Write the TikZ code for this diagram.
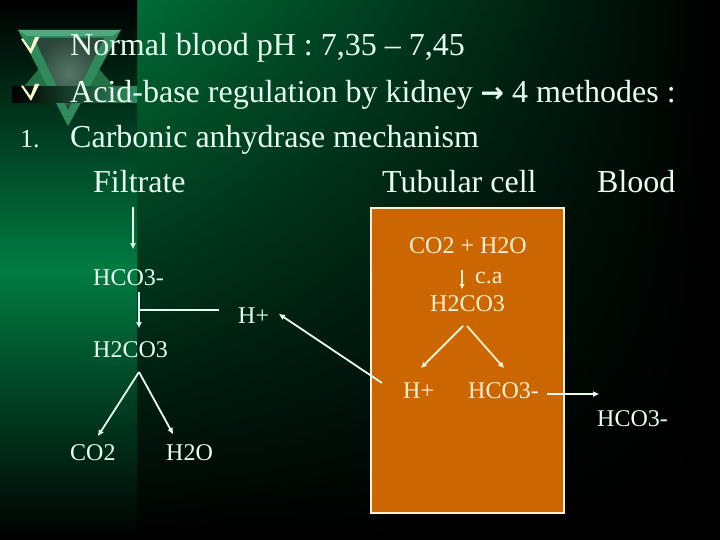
\documentclass[tikz,border=0pt]{standalone}
\usepackage{fontspec}
\setmainfont{Liberation Serif}
\newfontfamily\dejavu{DejaVu Sans}
\usetikzlibrary{arrows.meta,fadings}
\definecolor{bggreen}{HTML}{006C37}
\definecolor{bgmid}{HTML}{004A26}
\definecolor{stripgreen}{HTML}{007C42}
\definecolor{txt}{HTML}{E6FFF0}
\definecolor{boxtxt}{HTML}{FFF0D2}
\definecolor{orangebox}{HTML}{CC6600}
\definecolor{checkcol}{HTML}{FFFFCC}
\definecolor{ornframe}{HTML}{2F8A5C}
\definecolor{ornlight}{HTML}{4FA97C}
\definecolor{ornback}{HTML}{237246}
\definecolor{orninner}{HTML}{3A5E4C}
\definecolor{barlight}{HTML}{9CD4B4}
\tikzfading[name=bottomdark, top color=transparent!100, middle color=transparent!75, bottom color=transparent!0]
\begin{document}
\begin{tikzpicture}[x=1pt,y=-1pt,
  title/.style={anchor=base west, inner sep=0pt, text=txt, font=\fontsize{32}{38}\selectfont},
  chem/.style={anchor=base west, inner sep=0pt, text=txt, font=\fontsize{24}{28}\selectfont},
  boxchem/.style={anchor=base west, inner sep=0pt, text=boxtxt, font=\fontsize{24}{28}\selectfont},
  checkmark/.style={fill=checkcol},
  arr/.style={draw=txt, line width=1.8pt, -{Triangle[length=6pt,width=5pt]}},
  barr/.style={draw=boxtxt, line width=1.8pt, -{Triangle[length=6pt,width=5pt]}},
  plain/.style={draw=txt, line width=1.8pt}]
\useasboundingbox (0,0) rectangle (720,540);
% background
\shade[left color=bggreen, middle color=bgmid, right color=black] (137,0) rectangle (720,540);
\fill[black, path fading=bottomdark] (137,0) rectangle (720,540);
\shade[top color=black, bottom color=black, middle color=stripgreen] (0,0) rectangle (137,540);
% ornament
\fill[ornback] (20,91) -- (118,91) -- (69,34) -- cycle;
\fill[ornframe] (18,30) -- (121,30) -- (68,126) -- cycle;
\fill[ornlight] (18,30) -- (121,30) -- (112,36) -- (27,36) -- cycle;
\shade[inner color=orninner!85!white, outer color=orninner!75!black] (34,38) -- (104,38) -- (68,110) -- cycle;
\shade[left color=black, middle color=barlight, right color=ornframe] (12,87) rectangle (137,103);
% bullets (check marks)
\fill[checkmark] (21,39) -- (23,38.5) -- (30.5,49) -- (35,37) -- (39.5,37) -- (31,54) -- cycle;
\fill[checkmark] (21,86) -- (23,85.5) -- (30.5,96) -- (35,84) -- (39.5,84) -- (31,101) -- cycle;
% headings
\node[title] (t1) at (70,56) {Normal blood pH : 7,35 – 7,45};
\node[title] (t2) at (70,103) {Acid-base regulation by kidney {\dejavu\bfseries\fontsize{28}{32}\selectfont →} 4 methodes :};
\node[anchor=base west, inner sep=0pt, text=txt, font=\fontsize{26}{30}\selectfont] (n1) at (20,148) {1.};
\node[title] (t3) at (70,148) {Carbonic anhydrase mechanism};
\node[title] (h1) at (93,193) {Filtrate};
\node[title] (h2) at (382,193) {Tubular cell};
\node[title] (h3) at (597,193) {Blood};
% tubular cell box
\draw[fill=orangebox, draw=boxtxt, line width=2pt] (371,208) rectangle (564,513);
% left column
\node[chem] (lhco) at (93,285) {HCO3-};
\node[chem] (lhp) at (238,323) {H+};
\node[chem] (lh2co3) at (93,357) {H2CO3};
\node[chem] (lco2) at (70,460) {CO2};
\node[chem] (lh2o) at (166,460) {H2O};
% box contents
\node[boxchem] (bco2) at (409,253) {CO2 + H2O};
\node[boxchem] (bca) at (475,283) {c.a};
\node[boxchem] (bh2co3) at (430,311) {H2CO3};
\node[boxchem] (bhp) at (403,398) {H+};
\node[boxchem] (bhco) at (468,398) {HCO3-};
\node[chem] (ohco) at (597,426) {HCO3-};
% connector points
\coordinate (a1s) at (133,207); \coordinate (a1e) at (133,249);
\coordinate (a2s) at (139,292); \coordinate (a2e) at (139,328);
\coordinate (ljoin) at (139,310); \coordinate (lend) at (219,310);
\coordinate (a3s) at (382,383); \coordinate (a3e) at (279,314);
\coordinate (lapex) at (139,372); \coordinate (lco2e) at (98,436); \coordinate (lh2oe) at (173,434);
\coordinate (cas) at (462,270); \coordinate (cae) at (462,289);
\coordinate (bapex1) at (463,326); \coordinate (bapex2) at (467,326);
\coordinate (bhpe) at (421,368); \coordinate (bhcoe) at (504,368);
\coordinate (a8s) at (547,394); \coordinate (a8e) at (599,394);
% connectors
\draw[arr] (a1s) -- (a1e);
\draw[arr] (a2s) -- (a2e);
\draw[plain] (ljoin) -- (lend);
\draw[arr] (a3s) -- (a3e);
\draw[arr] (lapex) -- (lco2e);
\draw[arr] (lapex) -- (lh2oe);
\draw[draw=boxtxt, line width=1.2pt, -{Triangle[length=5pt,width=4.5pt]}] (cas) -- (cae);
\draw[barr] (bapex1) -- (bhpe);
\draw[barr] (bapex2) -- (bhcoe);
\draw[arr] (a8s) -- (a8e);
\end{tikzpicture}
\end{document}
